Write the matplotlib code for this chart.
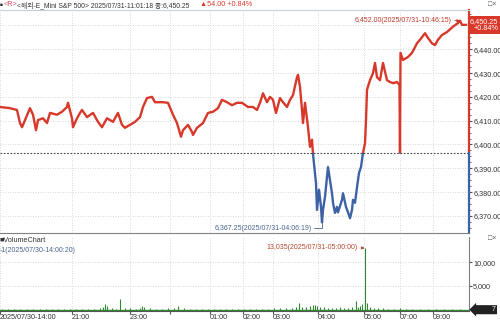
import numpy as np
import matplotlib.pyplot as plt
from matplotlib.patches import Rectangle
from matplotlib.transforms import blended_transform_factory

plt.rcParams['font.family'] = ['Liberation Sans', 'Noto Sans CJK KR', 'DejaVu Sans']

prev_close = 6396.25
last_price = 6450.25
hi_idx, hi_price = 460, 6452.00
lo_idx, lo_price = 322, 6367.25
vmax_idx, vmax = 364.7, 13035

# tick index in the session and price
px_idx = [0, 5, 10, 17, 20, 22, 25, 30, 33, 36, 38, 43, 47, 50, 57, 62, 67, 68, 72, 73,
          77, 80, 82, 87, 93, 98, 102, 107, 113, 118, 122, 125, 130, 135, 140, 143, 147, 152, 155, 160,
          163, 168, 173, 177, 181, 183, 188, 192, 193, 197, 203, 208, 213, 218, 222, 227, 232, 237, 242, 248,
          253, 257, 260, 263, 267, 270, 273, 276, 280, 283, 287, 290, 293, 297, 298, 300, 302, 303, 305, 308,
          310, 312, 313, 315, 316, 317, 319, 321, 322, 323, 325, 327, 328, 330, 332, 333, 335, 337, 338, 342,
          343, 346, 348, 350, 352, 353, 355, 357, 359, 361, 363, 365, 366, 367, 370, 373, 375, 377, 380, 383,
          387, 390, 393, 397, 399.5, 400, 400.5, 403, 408, 412, 417, 420, 425, 428, 432, 435, 438, 442, 447, 453,
          458, 460, 462, 466]
px_val = [6415.75, 6415.5, 6415.25, 6414.5, 6409.0, 6407.25, 6410.25, 6415.25, 6412.5, 6406.0, 6410.25, 6411.0, 6409.0, 6413.25, 6412.5, 6413.75, 6415.75, 6417.5, 6411.0, 6407.25,
          6411.0, 6413.25, 6414.5, 6411.5, 6413.25, 6409.5, 6407.25, 6411.0, 6409.5, 6413.25, 6408.25, 6407.0, 6408.25, 6409.5, 6411.5, 6415.75, 6419.5, 6420.0, 6417.75, 6417.75,
          6417.75, 6417.5, 6412.5, 6409.0, 6403.25, 6406.0, 6408.25, 6405.25, 6404.0, 6407.0, 6409.0, 6413.25, 6413.75, 6415.25, 6418.75, 6417.75, 6416.5, 6417.5, 6417.5, 6415.75,
          6415.75, 6414.5, 6417.5, 6421.5, 6417.75, 6420.0, 6418.75, 6413.25, 6419.5, 6417.75, 6415.75, 6418.75, 6420.75, 6428.25, 6429.25, 6424.25, 6414.5, 6409.0, 6417.5, 6407.25,
          6399.0, 6402.0, 6396.0, 6388.0, 6383.75, 6372.5, 6381.0, 6373.75, 6367.25, 6372.5, 6378.0, 6386.25, 6390.5, 6385.0, 6379.5, 6375.5, 6371.25, 6373.75, 6371.5, 6376.75,
          6379.5, 6373.75, 6371.5, 6369.0, 6372.5, 6376.75, 6375.5, 6382.0, 6388.0, 6390.5, 6396.5, 6400.5, 6410.0, 6423.0, 6427.0, 6430.0, 6434.25, 6428.25, 6427.0, 6434.25,
          6427.0, 6426.25, 6425.75, 6426.25, 6425.0, 6396.5, 6438.5, 6435.5, 6436.75, 6438.5, 6442.5, 6444.0, 6446.75, 6444.75, 6442.5, 6441.75, 6444.0, 6446.0, 6447.25, 6449.5,
          6451.0, 6452.0, 6450.25, 6450.25]

vol_idx = [2, 8, 14, 20, 27, 33, 40, 46, 52, 58, 64, 70, 76, 82, 88, 94, 100, 103, 105, 107,
           112, 116, 120, 125, 130, 136, 140, 142, 144, 150, 156, 162, 168, 174, 178, 184, 190, 196, 202, 208,
           214, 220, 226, 232, 238, 244, 250, 256, 262, 268, 274, 280, 286, 292, 296, 299, 302, 306, 310, 313,
           315, 317, 320, 324, 328, 332, 336, 340, 344, 348, 352, 356, 358, 360, 362, 364.7, 367, 370, 374, 378,
           383, 388, 394, 400, 406, 412, 420, 428, 436, 444, 452, 460, 466]
vol_val = [120, 90, 150, 110, 160, 100, 130, 90, 170, 120, 140, 200, 160, 130, 180, 220, 260, 600, 1250, 800,
           300, 250, 2300, 350, 300, 250, 420, 750, 650, 300, 250, 220, 300, 350, 800, 260, 200, 180, 150, 170,
           140, 130, 150, 120, 140, 160, 200, 180, 220, 250, 300, 320, 350, 450, 500, 1350, 600, 550, 700, 900,
           1000, 850, 600, 500, 450, 400, 450, 500, 400, 450, 500, 1750, 600, 800, 1200, 13035, 1500, 500, 400, 350,
           300, 250, 250, 300, 150, 120, 130, 110, 100, 90, 80, 70, 7]

xtick_idx = [0, 72, 130, 170, 210, 243, 273, 318, 364, 400, 433]
xtick_lab = ['2025/07/30-14:00', '21:00', '23:00', '', '01:00', '02:00', '03:00', '04:00', '05:00', '07:00', '09:00']
ptick = [6370, 6380, 6390, 6400, 6410, 6420, 6430, 6440, 6450]
vtick = [5000, 10000]

red = '#d8382a'
blue = '#3d63a6'
green = '#2f8a2f'
txt = '#333333'
fs = 5.2
grid_kw = dict(color='#cccccc', ls=(0, (1, 2)), lw=0.6)

fig = plt.figure(figsize=(5, 3.23), dpi=100)
W, H = 500.0, 323.0
ax = fig.add_axes([0, 1 - 233 / H, 469 / W, 223 / H])
vax = fig.add_axes([0, 1 - 311 / H, 469 / W, 74 / H])

# price panel
ax.set_xlim(0, 469)
ax.set_ylim(6362.8, 6456.5)
ln_r, = ax.plot(px_idx, px_val, color=red, lw=1.7)
ln_r.set_clip_path(Rectangle((-10, prev_close), 1000, 500, transform=ax.transData))
ln_b, = ax.plot(px_idx, px_val, color=blue, lw=1.7)
ln_b.set_clip_path(Rectangle((-10, 6000), 1000, prev_close - 6000, transform=ax.transData))
ax.axhline(prev_close, color='#444444', ls=(0, (1.5, 1.5)), lw=0.8)

ax.set_xticks(xtick_idx)
ax.set_xticklabels([])
ax.tick_params(axis='x', length=0)
ax.yaxis.tick_right()
ax.set_yticks(ptick)
# the 6,450 label sits under the current-price tag
ax.set_yticklabels(['{:,.2f}'.format(t) if t != 6450 else '' for t in ptick])
ax.set_yticks(np.arange(6365, 6456, 2.5), minor=True)
ax.tick_params(axis='y', which='major', length=2.5, pad=0.5, labelsize=fs, labelcolor=txt, color='#555555')
ax.tick_params(axis='y', which='minor', length=1.5, color='#555555')
ax.grid(True, **grid_kw)
for s in ['left', 'right']:
    ax.spines[s].set_visible(False)
ax.spines['top'].set_color('#c8d0dc')
ax.spines['bottom'].set_color('#808080')
frac = (prev_close - 6362.8) / (6456.5 - 6362.8)
ax.axvline(469, ymin=frac, ymax=1, color=red, lw=1.6, clip_on=False)
ax.axvline(469, ymin=0, ymax=frac, color=blue, lw=1.6, clip_on=False)

tr = blended_transform_factory(fig.transFigure, ax.transData)
ax.text(498 / W, last_price, '6,450.25\n+0.84%', transform=tr, ha='right', va='center',
        multialignment='right', fontsize=fs, color='white', linespacing=1.0, zorder=10,
        bbox=dict(boxstyle='square,pad=0.3', fc=red, ec='none'))

ax.annotate('6,452.00(2025/07/31-10:46:15)', xy=(hi_idx, hi_price), xytext=(452, hi_price),
            ha='right', va='center', fontsize=5, color='#c0392b',
            arrowprops=dict(arrowstyle='-|>', color='#c0392b', lw=0.6, mutation_scale=4,
                            shrinkA=0, shrinkB=0))
ax.annotate('6,367.25(2025/07/31-04:06:19)', xy=(lo_idx, lo_price), xytext=(-7.5, -4.3),
            textcoords='offset points', ha='right', va='center', fontsize=5, color='#4a6490',
            arrowprops=dict(arrowstyle='-', color='#4a6490', lw=0.6, shrinkA=0, shrinkB=0,
                            connectionstyle='angle,angleA=0,angleB=90,rad=0'))

# volume panel
vax.set_xlim(0, 469)
vax.set_ylim(-270, 15350)
vax.vlines(vol_idx, 0, vol_val, color=green, lw=0.8)
vax.axhline(0, color=green, lw=1.0)
vax.set_xticks(xtick_idx)
vax.set_xticklabels(xtick_lab, ha='left')
vax.tick_params(axis='x', length=2, pad=0.5, labelsize=fs, labelcolor=txt, color='#555555')
vax.yaxis.tick_right()
vax.set_yticks(vtick)
vax.set_yticklabels(['{:,}'.format(t) for t in vtick])
vax.tick_params(axis='y', length=2.5, pad=0.5, labelsize=fs, labelcolor=txt, color='#555555')
vax.grid(True, **grid_kw)
vax.spines['left'].set_visible(False)
vax.spines['top'].set_visible(False)
vax.spines['right'].set_color('#808080')
vax.spines['bottom'].set_color('#555555')
vax.annotate('13,035(2025/07/31-05:00:00)', xy=(vmax_idx, vmax), xytext=(358, vmax),
             ha='right', va='center', fontsize=5, color='#b5482f',
             arrowprops=dict(arrowstyle='-|>', color='#b5482f', lw=0.6, mutation_scale=4,
                             shrinkA=0, shrinkB=0))
vtr = blended_transform_factory(fig.transFigure, vax.transData)
vax.text(496 / W, 7, '         7', transform=vtr, ha='right', va='center', fontsize=5,
         color='white', bbox=dict(boxstyle='larrow,pad=0.15', fc='#222222', ec='none'))

# header line, each piece placed right after the previous one
y0 = 1 - 5 / H
t = ax.annotate('■', xy=(0, y0), xycoords='figure fraction', fontsize=3.5, color=txt,
                va='center', annotation_clip=False)
t = ax.annotate('<R>', xy=(1, 0.5), xycoords=t, xytext=(0.5, 0), textcoords='offset points',
                fontsize=fs, color='#e0506a', va='center', annotation_clip=False)
t = ax.annotate('<해외-E_Mini S&P 500> 2025/07/31-11:01:18 종:6,450.25', xy=(1, 0.5), xycoords=t,
                xytext=(0, 0), textcoords='offset points', fontsize=4.9, color=txt, va='center',
                annotation_clip=False)
ax.annotate('▲54.00 +0.84%', xy=(1, 0.5), xycoords=t, xytext=(7, 0), textcoords='offset points',
            fontsize=fs, color=red, va='center', annotation_clip=False)
fig.text(488 / W, y0, '□×', fontsize=5, color='#555555', va='center')
fig.text(0.0, 1 - 240 / H, '■VolumeChart', fontsize=fs, color=txt, va='center')
fig.text(488 / W, 1 - 239 / H, '□×', fontsize=5, color='#555555', va='center')
fig.text(0.0, 1 - 251 / H, '-1(2025/07/30-14:00:20)', fontsize=5, color='#4a6490', va='center')

fig.savefig('out.png', dpi=100)
